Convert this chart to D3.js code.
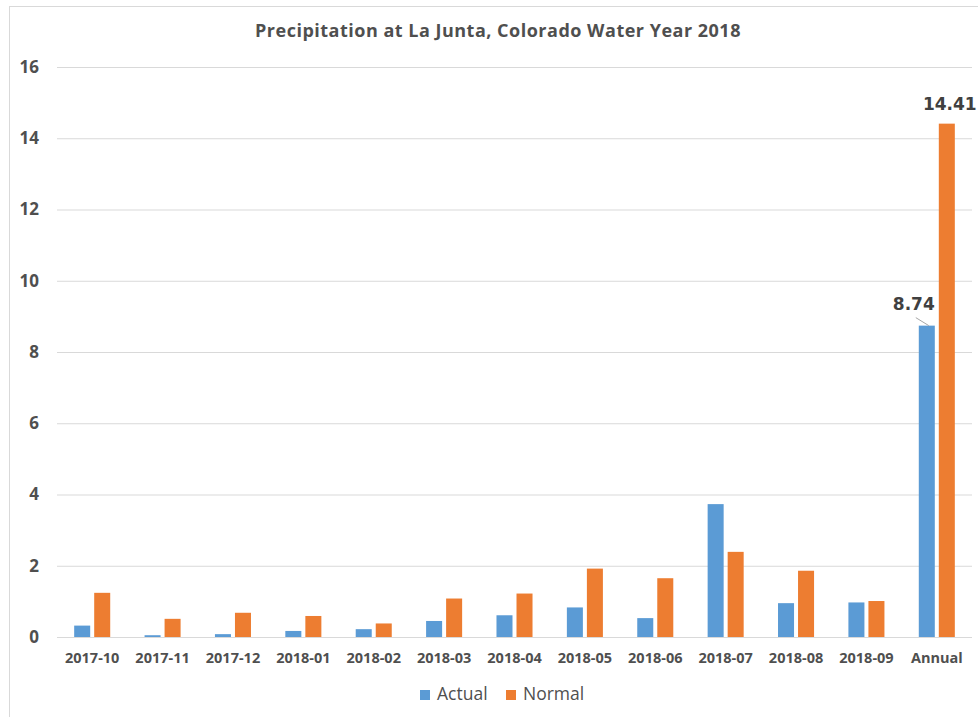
<!DOCTYPE html>
<html>
<head>
<meta charset="utf-8">
<script src="https://cdn.jsdelivr.net/npm/d3@7"></script>
<style>
  html, body { margin: 0; padding: 0; background: #fff; }
  svg { display: block; }
</style>
</head>
<body>
<svg id="chart" width="978" height="717"></svg>
<script>
// Monthly precipitation (inches), La Junta CO, water year 2018
const categories = ["2017-10", "2017-11", "2017-12", "2018-01", "2018-02", "2018-03",
                    "2018-04", "2018-05", "2018-06", "2018-07", "2018-08", "2018-09", "Annual"];
const actual = [0.32, 0.05, 0.08, 0.17, 0.22, 0.45, 0.61, 0.83, 0.53, 3.73, 0.95, 0.97, 8.74];
const normal = [1.24, 0.51, 0.68, 0.59, 0.38, 1.08, 1.22, 1.92, 1.65, 2.39, 1.86, 1.01, 14.41];
const seriesNames = ["Actual", "Normal"];
const yTicks = [0, 2, 4, 6, 8, 10, 12, 14, 16];
const title = "Precipitation at La Junta, Colorado Water Year 2018";

const colors = { Actual: "#5B9BD5", Normal: "#ED7D31" };
const textColor = "#4f4f4f";
const gridColor = "#d9d9d9";

const svg = d3.select("#chart");

// outer chart frame
svg.append("rect")
  .attr("x", 9.5).attr("y", 6.5)
  .attr("width", 1000).attr("height", 1000)
  .attr("fill", "#fff").attr("stroke", gridColor).attr("stroke-width", 1);

const plot = { left: 57, right: 972, top: 67, bottom: 637 };

const x = d3.scaleBand()
  .domain(categories)
  .range([plot.left, plot.right])
  .paddingInner(0.488)
  .paddingOuter(0.244);

const xs = d3.scaleBand()
  .domain(seriesNames)
  .range([0, x.bandwidth()])
  .paddingInner(0.2);

const y = d3.scaleLinear().domain([0, 16]).range([plot.bottom, plot.top]);

// title
svg.append("text")
  .attr("x", 498).attr("y", 37)
  .attr("text-anchor", "middle")
  .attr("font-family", "'Open Sans', sans-serif")
  .attr("font-weight", "bold")
  .attr("font-size", 18)
  .attr("letter-spacing", 0.5)
  .attr("fill", textColor)
  .text(title);

// horizontal gridlines + value axis labels
const yAxis = d3.axisLeft(y)
  .tickValues(yTicks)
  .tickSize(-(plot.right - plot.left))
  .tickPadding(18)
  .tickFormat(d3.format("d"));

const gy = svg.append("g")
  .attr("transform", `translate(${plot.left},0)`)
  .call(yAxis);
gy.select(".domain").remove();
gy.selectAll(".tick line").attr("stroke", gridColor).attr("stroke-width", 1);
gy.selectAll(".tick text")
  .attr("font-family", "'Open Sans', sans-serif")
  .attr("font-weight", "bold")
  .attr("font-size", 17)
  .attr("fill", textColor);

// category axis labels
const xAxis = d3.axisBottom(x).tickSize(0).tickPadding(16);
const gx = svg.append("g")
  .attr("transform", `translate(0,${plot.bottom})`)
  .call(xAxis);
gx.select(".domain").remove();
gx.selectAll(".tick text")
  .attr("font-family", "'Open Sans', sans-serif")
  .attr("font-weight", "bold")
  .attr("font-size", 14.5)
  .attr("fill", textColor);

// bars
const rows = categories.map((c, i) => ({ cat: c, Actual: actual[i], Normal: normal[i] }));
const groups = svg.append("g").selectAll("g")
  .data(rows)
  .join("g")
  .attr("transform", d => `translate(${x(d.cat)},0)`);

groups.selectAll("rect")
  .data(d => seriesNames.map(s => ({ s, v: d[s] })))
  .join("rect")
  .attr("x", d => xs(d.s))
  .attr("width", xs.bandwidth())
  .attr("y", d => y(d.v))
  .attr("height", d => y(0) - y(d.v))
  .attr("fill", d => colors[d.s]);

// data labels on the annual totals
const last = categories.length - 1;
const annualCat = categories[last];
const aCx = x(annualCat) + xs("Actual") + xs.bandwidth() / 2;
const nCx = x(annualCat) + xs("Normal") + xs.bandwidth() / 2;

svg.append("line")
  .attr("x1", aCx - 11).attr("y1", y(actual[last]) - 8)
  .attr("x2", aCx + 2).attr("y2", y(actual[last]))
  .attr("stroke", "#a6a6a6").attr("stroke-width", 1);

svg.append("text")
  .attr("x", aCx - 13).attr("y", y(actual[last]) - 16)
  .attr("text-anchor", "middle")
  .attr("font-family", "'DejaVu Sans', sans-serif")
  .attr("font-weight", "bold")
  .attr("font-size", 17)
  .attr("fill", "#404040")
  .text(actual[last].toFixed(2));

svg.append("text")
  .attr("x", nCx + 3).attr("y", y(normal[last]) - 14)
  .attr("text-anchor", "middle")
  .attr("font-family", "'DejaVu Sans', sans-serif")
  .attr("font-weight", "bold")
  .attr("font-size", 17)
  .attr("fill", "#404040")
  .text(normal[last].toFixed(2));

// legend
const legend = svg.append("g").attr("transform", "translate(420,690)");
const legendOffsets = [0, 86];
seriesNames.forEach((s, i) => {
  const g = legend.append("g").attr("transform", `translate(${legendOffsets[i]},0)`);
  g.append("rect").attr("width", 10).attr("height", 10).attr("fill", colors[s]);
  g.append("text")
    .attr("x", 17).attr("y", 9.5)
    .attr("font-family", "'Open Sans', sans-serif")
    .attr("font-size", 17.5)
    .attr("font-weight", 500)
    .attr("fill", textColor)
    .text(s);
});
</script>
</body>
</html>
